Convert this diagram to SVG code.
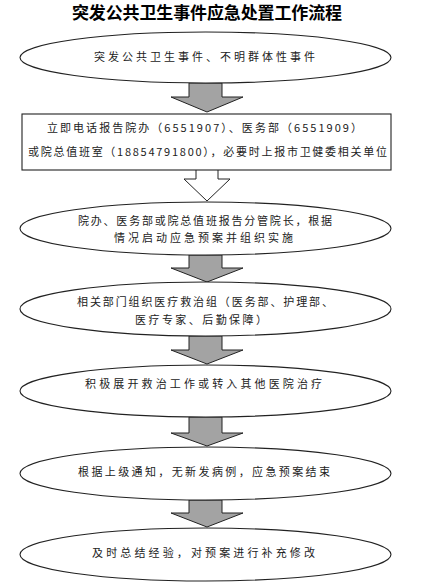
<svg xmlns="http://www.w3.org/2000/svg" width="435" height="582" viewBox="0 0 435 582">
<style>
.n{fill:#fff;stroke:#222;stroke-width:1.1}
.t{font-family:"Noto Sans CJK SC","Liberation Sans",sans-serif;font-size:11px;fill:#222}
.title{font-family:"Noto Sans CJK SC","Liberation Sans",sans-serif;font-size:17px;font-weight:bold;fill:#000}
.a{fill:#a3a3a3;stroke:#222;stroke-width:1}
.h{fill:#fff;stroke:#222;stroke-width:1}
</style>
<rect width="435" height="582" fill="#fff"/>
<text class="title" x="72" y="19" textLength="270" lengthAdjust="spacing">突发公共卫生事件应急处置工作流程</text>
<g id="connectors">
<path class="a" d="M189,83 V97 H171 L207,112 L243,97 H222 V83 Z"/>
<path class="h" d="M196,170 V179 H184 L207,201 L230,179 H218 V170"/>
<path class="a" d="M189,255 V268 H171 L207,282 L243,268 H222 V255 Z"/>
<path class="a" d="M189,336 V350 H171 L207,364 L243,350 H222 V336 Z"/>
<path class="a" d="M189,417 V433 H171 L207,446 L243,433 H222 V417 Z"/>
<path class="a" d="M189,500 V513 H171 L207,527 L243,513 H222 V500 Z"/>
</g>
<g id="n1">
<ellipse class="n" cx="205.5" cy="57.5" rx="185.5" ry="25.5"/>
<text class="t" x="94" y="61" textLength="221" lengthAdjust="spacing">突发公共卫生事件、不明群体性事件</text>
</g>
<g id="n2">
<rect class="n" x="22" y="114" width="369" height="56"/>
<text class="t" x="47" y="132" textLength="315" lengthAdjust="spacing">立即电话报告院办（6551907）、医务部（6551909）</text>
<text class="t" x="28" y="156" textLength="359" lengthAdjust="spacing">或院总值班室（18854791800），必要时上报市卫健委相关单位</text>
</g>
<g id="n3">
<ellipse class="n" cx="205.5" cy="228.5" rx="185.5" ry="26.5"/>
<text class="t" x="78" y="225" textLength="254" lengthAdjust="spacing">院办、医务部或院总值班报告分管院长，根据</text>
<text class="t" x="114" y="242" textLength="179" lengthAdjust="spacing">情况启动应急预案并组织实施</text>
</g>
<g id="n4">
<ellipse class="n" cx="205.5" cy="309" rx="185.5" ry="27"/>
<text class="t" x="77" y="306" textLength="256" lengthAdjust="spacing">相关部门组织医疗救治组（医务部、护理部、</text>
<text class="t" x="135" y="324" textLength="132" lengthAdjust="spacing">医疗专家、后勤保障）</text>
</g>
<g id="n5">
<ellipse class="n" cx="205.5" cy="391" rx="185.5" ry="26"/>
<text class="t" x="85" y="388" textLength="237" lengthAdjust="spacing">积极展开救治工作或转入其他医院治疗</text>
</g>
<g id="n6">
<ellipse class="n" cx="205.5" cy="473.5" rx="185.5" ry="26.5"/>
<text class="t" x="78" y="476" textLength="252" lengthAdjust="spacing">根据上级通知，无新发病例，应急预案结束</text>
</g>
<g id="n7">
<ellipse class="n" cx="205.5" cy="554.5" rx="185.5" ry="26.5"/>
<text class="t" x="92" y="557" textLength="223" lengthAdjust="spacing">及时总结经验，对预案进行补充修改</text>
</g>
</svg>
